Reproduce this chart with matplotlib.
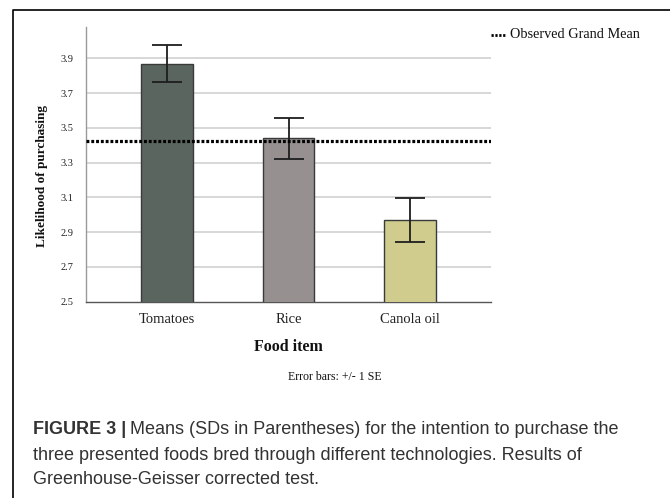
import matplotlib
matplotlib.use("Agg")
import matplotlib.pyplot as plt
from matplotlib.lines import Line2D
import numpy as np

# Data
foods = ["Tomatoes", "Rice", "Canola oil"]
means = [3.87, 3.44, 2.97]
std_err = [0.109, 0.117, 0.128]
grand_mean = 3.425
y_ticks = [2.5, 2.7, 2.9, 3.1, 3.3, 3.5, 3.7, 3.9]
bar_colors = ["#5b655f", "#979090", "#cfcc8e"]

W, H = 670, 498
fig = plt.figure(figsize=(W / 100, H / 100), dpi=100)
serif = "Liberation Serif"
sans = "Liberation Sans"


def fx(px):
    return px / W


def fy(py):
    return 1 - py / H


ax = fig.add_axes([fx(86), fy(301.7), fx(491) - fx(86), fy(27) - fy(301.7)])
x = np.arange(len(foods))
ax.bar(x, means, width=0.424, color=bar_colors, edgecolor="#3a3a3a",
       linewidth=1.0, zorder=3)
ax.errorbar(x, means, yerr=std_err, fmt="none", ecolor="#1e1e1e",
            elinewidth=1.3, capsize=10.8, capthick=1.3, zorder=4)
ax.axhline(grand_mean, color="black", linewidth=2.3,
           linestyle=(0, (0.9, 0.6)), zorder=5)

ax.set_xlim(-0.667, 2.667)
ax.set_ylim(2.5, 4.08)
ax.set_yticks(y_ticks)
ax.set_yticklabels([f"{v:.1f}" for v in y_ticks], fontfamily=serif, fontsize=7.5)
ax.set_xticks(x)
ax.set_xticklabels(foods, fontfamily=serif, fontsize=10.5)
ax.tick_params(axis="both", length=0, colors="#222222")
ax.tick_params(axis="y", pad=9)
ax.tick_params(axis="x", pad=8)
for t in y_ticks[1:]:
    ax.axhline(t, color="#d4d4d4", linewidth=1.3, zorder=1)
for s in ["top", "right"]:
    ax.spines[s].set_visible(False)
ax.spines["left"].set_color("#9a9a9a")
ax.spines["left"].set_linewidth(1.0)
ax.spines["bottom"].set_color("#555555")
ax.spines["bottom"].set_linewidth(1.0)

# Axis titles and note
fig.text(fx(42), fy(176), "Likelihood of purchasing", rotation=90,
         ha="center", va="center", fontfamily=serif, fontweight="bold",
         fontsize=9.5, color="#111111")
fig.text(fx(288), fy(346.7), "Food item", ha="center", va="center",
         fontfamily=serif, fontweight="bold", fontsize=11.5, color="#111111")
fig.text(fx(335), fy(377), "Error bars: +/- 1 SE", ha="center", va="center",
         fontfamily=serif, fontsize=8.6, color="#111111")

# Legend entry for the grand mean line
fig.add_artist(Line2D([fx(491), fx(506)], [fy(35), fy(35)],
                      transform=fig.transFigure, color="black",
                      linewidth=2.0, linestyle=(0, (0.8, 0.6))))
fig.text(fx(510.5), fy(35), "Observed Grand Mean", ha="left", va="center",
         fontfamily=serif, fontsize=10.3, color="#111111")

# Frame
fig.add_artist(Line2D([fx(13.3), fx(13.3), fx(670)], [0, fy(10), fy(10)],
                      transform=fig.transFigure, color="black", linewidth=1.2))

# Caption
cap_color = "#333333"
cap_size = 13
fig.canvas.draw()
renderer = fig.canvas.get_renderer()
bold = fig.text(fx(33), fy(430), "FIGURE 3 |", ha="left", va="center",
                fontfamily=sans, fontweight="bold", fontsize=cap_size,
                color=cap_color)
bb = bold.get_window_extent(renderer=renderer)
fig.text(bb.x1 / W + fx(4), fy(430),
         "Means (SDs in Parentheses) for the intention to purchase the",
         ha="left", va="center", fontfamily=sans, fontsize=cap_size,
         color=cap_color)
fig.text(fx(33), fy(455),
         "three presented foods bred through different technologies. Results of",
         ha="left", va="center", fontfamily=sans, fontsize=cap_size,
         color=cap_color)
fig.text(fx(33), fy(479), "Greenhouse-Geisser corrected test.",
         ha="left", va="center", fontfamily=sans, fontsize=cap_size,
         color=cap_color)

fig.savefig("out.png", dpi=100)
